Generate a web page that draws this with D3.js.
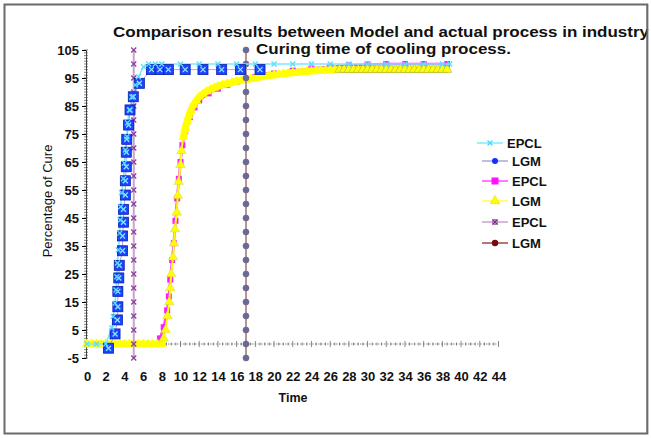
<!DOCTYPE html>
<html>
<head>
<meta charset="utf-8">
<script src="https://cdn.jsdelivr.net/npm/d3@7"></script>
<style>
  body { margin: 0; background: #fff; }
  svg { display: block; font-family: "Liberation Sans", Arial, sans-serif; }
</style>
</head>
<body>
<div id="container"></div>
<script>
// tick labels
const timeTicks = [0, 2, 4, 6, 8, 10, 12, 14, 16, 18, 20, 22, 24, 26, 28, 30, 32, 34, 36, 38, 40, 42, 44];
const cureTicks = [-5, 5, 15, 25, 35, 45, 55, 65, 75, 85, 95, 105];

// [time, % cure]
const fastEpcl = [[0, 0], [1, 0], [2, 0], [2.65, 5.7], [2.8, 9.8], [3.0, 14.6], [3.1, 19.3], [3.2, 24], [3.25, 28.9],
  [3.35, 33.6], [3.5, 39.6], [3.55, 44.3], [3.6, 49], [3.7, 54], [3.9, 59], [4.0, 64.6], [4.1, 69.3], [4.27, 74],
  [4.33, 79], [4.55, 83.6], [4.8, 88.2], [5.16, 92.5], [5.5, 95.4], [6.05, 99], [6.6, 100], [7.3, 100], [8, 100],
  [10, 100], [12, 100], [14, 100], [16, 100], [18, 100], [20, 100], [22, 100], [24, 100], [26, 100], [28, 100],
  [30, 100], [32, 100], [34, 100], [36, 100], [38, 100], [38.8, 100]];

const fastLgm = [[2.3, -1.5], [3.0, 3.6], [3.25, 8.6], [3.3, 13.3], [3.3, 18.8], [3.4, 23.6], [3.45, 28.1], [3.8, 33.3],
  [3.8, 38.6], [3.9, 43.5], [3.9, 48.1], [4.1, 53.2], [4.1, 58.3], [4.2, 63.3], [4.2, 68.5], [4.25, 73.1],
  [4.45, 78.2], [4.6, 83.6], [4.95, 88.3], [5.6, 93.1], [6.9, 98], [7.8, 98], [8.7, 98], [10.5, 98], [12.4, 98],
  [14.4, 98], [16.4, 98], [18.5, 98]];

const slowEpcl = [[0, 0], [1, 0], [2, 0], [3, 0], [4, 0], [5, 0], [6, 0], [7, 0], [7.5, 0], [7.8, 2], [8.2, 6],
  [8.57, 12], [8.75, 17], [8.9, 23], [9.1, 30], [9.28, 36], [9.46, 44], [9.64, 52], [9.82, 59], [10.0, 65],
  [10.2, 71], [10.5, 76], [11, 81], [11.5, 84.5], [12, 87], [13, 89.5], [14, 91.2], [15, 92.6], [16, 93.7],
  [17, 94.6], [18, 95.4], [19, 96], [20, 96.6], [22, 97.6], [24, 98.4], [26, 99], [28, 99.5], [30, 99.8],
  [32, 100], [34, 100], [36, 100], [38.5, 100]];

const slowLgm = [[0, 0], [0.5, 0], [1, 0], [1.5, 0], [2, 0], [2.5, 0], [3, 0], [3.5, 0], [4, 0], [4.5, 0], [5, 0],
  [5.5, 0], [6, 0], [6.5, 0], [7, 0], [7.5, 0], [8, 0], [8.2, 2], [8.4, 5], [8.6, 10], [8.8, 15], [8.9, 20],
  [9.0, 25], [9.2, 31], [9.3, 36], [9.4, 41], [9.6, 47], [9.7, 53], [9.8, 58], [10.0, 64], [10.1, 69], [10.3, 74],
  [10.5, 77], [10.7, 79.5], [10.9, 81.5], [11.1, 83.5], [11.4, 85.5], [11.7, 87], [12, 88.3], [12.4, 89.3],
  [12.8, 90.2], [13.2, 90.9], [13.6, 91.5], [14, 92], [14.5, 92.6], [15, 93], [15.5, 93.4], [16, 93.8],
  [16.5, 94.1], [17, 94.4], [17.5, 94.7], [18, 95], [18.5, 95.3], [19, 95.6], [19.5, 95.9], [20, 96.1],
  [20.5, 96.3], [21, 96.5], [21.5, 96.7], [22, 96.9], [22.5, 97], [23, 97.2], [23.5, 97.3], [24, 97.5],
  [24.5, 97.6], [25, 97.7], [25.5, 97.8], [26, 97.9], [26.5, 97.9], [27, 98], [27.5, 98], [28, 98], [28.5, 98],
  [29, 98], [29.5, 98], [30, 98], [30.5, 98], [31, 98], [31.5, 98], [32, 98], [32.5, 98], [33, 98], [33.5, 98],
  [34, 98], [34.5, 98], [35, 98], [35.5, 98], [36, 98], [36.5, 98], [37, 98], [37.5, 98], [38, 98], [38.5, 98]];

const markEpclTime = 5;
const markLgmTime = 17;
const markCure = [-5, 0, 5, 10, 15, 20, 25, 30, 35, 40, 45, 50, 55, 60, 65, 70, 75, 80, 85, 90, 95, 100, 105];

const legendLabels = ["EPCL", "LGM", "EPCL", "LGM", "EPCL", "LGM"];

const width = 651;
const height = 438;

const x = d3.scaleLinear().domain([0, 44]).range([87, 498.5]);
const y = d3.scaleLinear().domain([-5, 105]).range([358, 50]);

const svg = d3.create("svg").attr("width", width).attr("height", height);

svg.append("rect")
  .attr("x", 4.5).attr("y", 4.5)
  .attr("width", 643).attr("height", 429)
  .attr("fill", "#fff")
  .attr("stroke", "#6a6a6a")
  .attr("stroke-width", 2);

// axes
const yAxisX = 86;
const yMinor = svg.append("g").attr("stroke", "#555").attr("stroke-width", 0.7);
yMinor.selectAll("line")
  .data(d3.range(-5, 105.5, 1))
  .join("line")
  .attr("x1", yAxisX - 2).attr("x2", yAxisX + 2)
  .attr("y1", (d) => y(d)).attr("y2", (d) => y(d));

svg.append("g")
  .attr("transform", `translate(${yAxisX},0)`)
  .call(d3.axisLeft(y).tickValues(cureTicks).tickSize(4).tickPadding(3).tickFormat((d) => String(d)))
  .call((g) => g.select(".domain").attr("stroke", "#444"))
  .call((g) => g.selectAll("text")
    .attr("font-size", 13).attr("font-weight", "bold").attr("fill", "#111")
    .attr("font-family", "Liberation Sans, Arial, sans-serif"));

const xMinor = svg.append("g").attr("stroke", "#555").attr("stroke-width", 0.7);
xMinor.append("line")
  .attr("x1", x(0)).attr("x2", x(44))
  .attr("y1", y(0)).attr("y2", y(0))
  .attr("stroke-dasharray", "1.5,1.5");
xMinor.selectAll(".t")
  .data(d3.range(0, 44.01, 0.5))
  .join("line")
  .attr("class", "t")
  .attr("x1", (d) => x(d)).attr("x2", (d) => x(d))
  .attr("y1", (d) => y(0) - (d % 2 === 0 ? 3 : 1.5))
  .attr("y2", (d) => y(0) + (d % 2 === 0 ? 3 : 1.5));

svg.append("g")
  .attr("transform", `translate(0,${y(-5)})`)
  .call(d3.axisBottom(x).tickValues(timeTicks).tickSize(0).tickPadding(14))
  .call((g) => g.select(".domain").remove())
  .call((g) => g.selectAll("text")
    .attr("font-size", 13).attr("font-weight", "bold").attr("fill", "#111")
    .attr("font-family", "Liberation Sans, Arial, sans-serif"));

svg.append("text")
  .attr("transform", "translate(52,201) rotate(-90)")
  .attr("text-anchor", "middle")
  .attr("font-size", 13)
  .attr("fill", "#111")
  .text("Percentage of Cure");

svg.append("text")
  .attr("x", 293).attr("y", 402)
  .attr("text-anchor", "middle")
  .attr("font-size", 12.5)
  .attr("font-weight", "bold")
  .attr("fill", "#111")
  .text("Time");

// marker helpers
const xPath = (s) => `M${-s},${-s}L${s},${s}M${-s},${s}L${s},${-s}`;
const line = d3.line().x((d) => x(d[0])).y((d) => y(d[1]));

// magenta EPCL
svg.append("path").datum(slowEpcl)
  .attr("d", line).attr("fill", "none")
  .attr("stroke", "#ff3cff").attr("stroke-width", 2.5);
svg.append("g").selectAll("rect")
  .data(slowEpcl)
  .join("rect")
  .attr("x", (d) => x(d[0]) - 3).attr("y", (d) => y(d[1]) - 3)
  .attr("width", 6).attr("height", 6)
  .attr("fill", "#ff1cff");

// yellow LGM: the dense markers form a wide band where the curve is flat
svg.append("path").datum(slowLgm)
  .attr("d", line).attr("fill", "none")
  .attr("stroke", "#ffff00").attr("stroke-width", 2);
[slowLgm.filter((d) => d[0] <= 8), slowLgm.filter((d) => d[0] >= 10.3)].forEach((part) => {
  svg.append("path").datum(part)
    .attr("d", line).attr("fill", "none")
    .attr("stroke", "#ffff00").attr("stroke-width", 7)
    .attr("stroke-linejoin", "round").attr("stroke-linecap", "round");
});
svg.append("g").selectAll("path")
  .data(slowLgm)
  .join("path")
  .attr("transform", (d) => `translate(${x(d[0])},${y(d[1])})`)
  .attr("d", d3.symbol(d3.symbolTriangle, 40))
  .attr("fill", "#ffff00")
  .attr("stroke", (d) => (d[0] >= 27 ? "#8a8a7a" : d[0] > 8 && d[0] < 10.3 ? "#c8c860" : "none"))
  .attr("stroke-width", 0.4);

// vertical marker series
const markEpcl = markCure.map((c) => [markEpclTime, c]);
const markLgm = markCure.map((c) => [markLgmTime, c]);

svg.append("path").datum(markEpcl)
  .attr("d", line).attr("fill", "none")
  .attr("stroke", "#c9a2cf").attr("stroke-width", 2);
svg.append("g").selectAll("path")
  .data(markEpcl)
  .join("path")
  .attr("transform", (d) => `translate(${x(d[0])},${y(d[1])})`)
  .attr("d", xPath(2.5))
  .attr("stroke", "#8c3c9c").attr("stroke-width", 1.3);

svg.append("path").datum(markLgm)
  .attr("d", line).attr("fill", "none")
  .attr("stroke", "#b89494").attr("stroke-width", 2);
svg.append("g").selectAll("circle")
  .data(markLgm)
  .join("circle")
  .attr("cx", (d) => x(d[0])).attr("cy", (d) => y(d[1]))
  .attr("r", 3)
  .attr("fill", "#5b6fa3")
  .attr("stroke", "#8a5a6a").attr("stroke-width", 0.7);

// cyan EPCL
svg.append("path").datum(fastEpcl)
  .attr("d", line).attr("fill", "none")
  .attr("stroke", "#7fe6ff").attr("stroke-width", 1.5);

// blue LGM
svg.append("path").datum(fastLgm)
  .attr("d", line).attr("fill", "none")
  .attr("stroke", "#a8a8e0").attr("stroke-width", 1);
const blue = svg.append("g").selectAll("g")
  .data(fastLgm)
  .join("g")
  .attr("transform", (d) => `translate(${x(d[0])},${y(d[1])})`);
blue.append("rect")
  .attr("x", -5).attr("y", -5).attr("width", 10).attr("height", 10)
  .attr("fill", "#1b44ff").attr("stroke", "#0a1fb0").attr("stroke-width", 0.8);
blue.append("path")
  .attr("d", xPath(2.5))
  .attr("stroke", "#8fe3ff").attr("stroke-width", 1.3);

svg.append("g").selectAll("path")
  .data(fastEpcl)
  .join("path")
  .attr("transform", (d) => `translate(${x(d[0])},${y(d[1])})`)
  .attr("d", xPath(2.5))
  .attr("stroke", "#55e0ff").attr("stroke-width", 1.3);

// title
svg.append("text")
  .attr("x", 113).attr("y", 37)
  .attr("font-size", 15).attr("font-weight", "bold").attr("fill", "#111")
  .attr("textLength", 536).attr("lengthAdjust", "spacingAndGlyphs")
  .text("Comparison results between Model and actual process in industry");
svg.append("text")
  .attr("x", 256).attr("y", 54)
  .attr("font-size", 15).attr("font-weight", "bold").attr("fill", "#111")
  .attr("textLength", 255).attr("lengthAdjust", "spacingAndGlyphs")
  .text("Curing time of cooling process.");

// right border drawn over the clipped title
svg.append("line")
  .attr("x1", 647.5).attr("x2", 647.5).attr("y1", 4).attr("y2", 434)
  .attr("stroke", "#6a6a6a").attr("stroke-width", 2);
svg.append("rect").attr("x", 648.5).attr("y", 0).attr("width", 3).attr("height", height).attr("fill", "#fff");

// legend
const legendY = [143, 161, 181, 201, 222, 243];
const legendLine = ["#80e8ff", "#a8a8dc", "#ff4cff", "#ffff40", "#c9a2cf", "#a04848"];
const legend = svg.append("g");
legendLabels.forEach((label, i) => {
  const x0 = i === 0 ? 477 : 482;
  const cy = legendY[i];
  const g = legend.append("g");
  g.append("line")
    .attr("x1", x0).attr("x2", x0 + 26).attr("y1", cy).attr("y2", cy)
    .attr("stroke", legendLine[i]).attr("stroke-width", 1.5);
  const mx = x0 + 13;
  if (i === 0) {
    g.append("path").attr("transform", `translate(${mx},${cy})`).attr("d", xPath(2.5))
      .attr("stroke", "#40dcff").attr("stroke-width", 1.4);
  } else if (i === 1) {
    g.append("circle").attr("cx", mx).attr("cy", cy).attr("r", 3).attr("fill", "#1030ff");
  } else if (i === 2) {
    g.append("rect").attr("x", mx - 3.5).attr("y", cy - 3.5).attr("width", 7).attr("height", 7).attr("fill", "#ff10ff");
  } else if (i === 3) {
    g.append("path").attr("transform", `translate(${mx},${cy})`).attr("d", d3.symbol(d3.symbolTriangle, 40))
      .attr("fill", "#ffff00").attr("stroke", "#d8d800").attr("stroke-width", 0.5);
  } else if (i === 4) {
    g.append("rect").attr("x", mx - 3).attr("y", cy - 3).attr("width", 6).attr("height", 6).attr("fill", "#b07ab8");
    g.append("path").attr("transform", `translate(${mx},${cy})`).attr("d", xPath(2.2))
      .attr("stroke", "#7a2c8c").attr("stroke-width", 1);
  } else {
    g.append("circle").attr("cx", mx).attr("cy", cy).attr("r", 3.2).attr("fill", "#7a0a0a");
  }
  g.append("text")
    .attr("x", x0 + 30).attr("y", cy + 4.5)
    .attr("font-size", 13).attr("font-weight", "bold").attr("fill", "#111")
    .text(label);
});

d3.select("#container").append(() => svg.node());
</script>
</body>
</html>
